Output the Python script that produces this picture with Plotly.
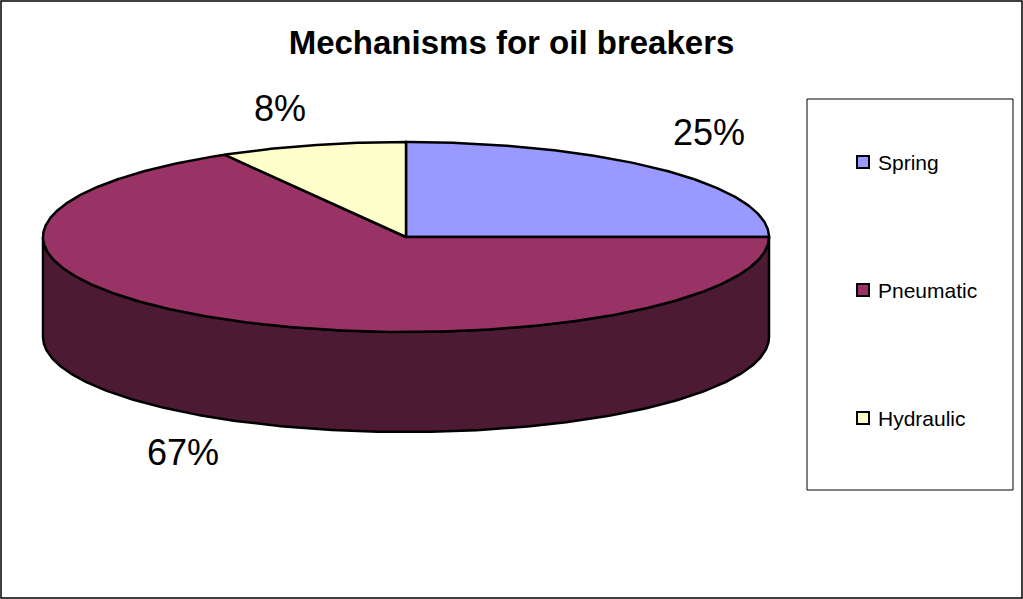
import numpy as np
import plotly.graph_objects as go

# ---------------- data ----------------
title_text = "Mechanisms for oil breakers"
categories = ["Spring", "Pneumatic", "Hydraulic"]
values = [3, 8, 1]
colors = ["#9999FF", "#993366", "#FFFFCC"]
side_colors = ["#4D4D80", "#4C1A33", "#808066"]

# ---------------- geometry (pixels) ----------------
W, H = 1023, 599
CX, CY = 406, 237
RX, RY = 363, 95
DEPTH = 100
FONT = "Liberation Sans, Arial, sans-serif"

total = float(sum(values))
starts = np.concatenate([[0.0], np.cumsum(values) / total * 360.0])


def ellipse(theta_deg, dy=0.0):
    t = np.radians(theta_deg)
    return CX + RX * np.sin(t), CY + dy - RY * np.cos(t)


fig = go.Figure()

# side walls (visible front half: 90..270 deg clockwise from top)
for i, name in enumerate(categories):
    a0, a1 = starts[i], starts[i + 1]
    lo, hi = max(a0, 90.0), min(a1, 270.0)
    if lo >= hi:
        continue
    th = np.linspace(lo, hi, 300)
    xt, yt = ellipse(th)
    xb, yb = ellipse(th[::-1], DEPTH)
    xs = np.concatenate([xt, xb, xt[:1]])
    ys = np.concatenate([yt, yb, yt[:1]])
    fig.add_trace(go.Scatter(
        x=xs, y=ys, mode="lines", fill="toself",
        fillcolor=side_colors[i], line=dict(color="black", width=2.5),
        hoverinfo="skip", showlegend=False))

# top faces
for i, name in enumerate(categories):
    a0, a1 = starts[i], starts[i + 1]
    n = max(int((a1 - a0) * 2), 10)
    th = np.linspace(a0, a1, n)
    xa, ya = ellipse(th)
    xs = np.concatenate([[CX], xa, [CX]])
    ys = np.concatenate([[CY], ya, [CY]])
    fig.add_trace(go.Scatter(
        x=xs, y=ys, mode="lines", fill="toself",
        fillcolor=colors[i], line=dict(color="black", width=2.5),
        hoverinfo="skip", showlegend=False, name=name))

# percentage labels
for i, name in enumerate(categories):
    mid = (starts[i] + starts[i + 1]) / 2.0
    s, c = np.sin(np.radians(mid)), np.cos(np.radians(mid))
    front = c < 0
    px, py = ellipse(mid, DEPTH if front else 0.0)
    pct = round(values[i] / total * 100)
    fig.add_annotation(
        x=px, y=py, xref="x", yref="y", text=f"{pct}%", showarrow=False,
        xanchor="left" if s > 0 else "right", yanchor="middle",
        xshift=8 if s > 0 else -4, yshift=-33 if front else 37,
        font=dict(family=FONT, size=36, color="black"))

# legend (manual, Excel style)
LEG_X0, LEG_X1, LEG_Y0, LEG_Y1 = 807, 1013, 99, 490
leg_y = [162 + 128 * k for k in range(len(categories))]
fig.add_shape(type="rect", xref="x", yref="y", x0=LEG_X0, x1=LEG_X1,
              y0=LEG_Y0, y1=LEG_Y1, line=dict(color="black", width=1),
              fillcolor="white", layer="below")
fig.add_trace(go.Scatter(
    x=[863] * len(categories), y=leg_y, mode="markers",
    marker=dict(symbol="square", size=12, color=colors,
                line=dict(color="black", width=2)),
    hoverinfo="skip", showlegend=False))
for k, name in enumerate(categories):
    fig.add_annotation(
        x=876, y=leg_y[k], xref="x", yref="y", text=name, showarrow=False,
        xanchor="left", yanchor="middle",
        font=dict(family=FONT, size=21, color="black"))

# outer chart border
fig.add_shape(type="rect", xref="x", yref="y", x0=1, x1=W - 1,
              y0=1, y1=H - 1, line=dict(color="black", width=1.5),
              layer="below")

fig.update_layout(
    width=W, height=H,
    margin=dict(l=0, r=0, t=0, b=0),
    paper_bgcolor="white", plot_bgcolor="white",
    title=dict(text=f"<b>{title_text}</b>", x=0.5, xanchor="center",
               y=1 - 42 / H, yanchor="middle", yref="paper",
               font=dict(family=FONT, size=33, color="black")),
    xaxis=dict(range=[0, W], visible=False, fixedrange=True),
    yaxis=dict(range=[H, 0], visible=False, fixedrange=True),
    showlegend=False,
)

fig.write_html(
    "out.html",
    config={"displayModeBar": False},
    post_script="document.body.style.margin='0px';"
                "document.body.style.overflow='hidden';",
)
